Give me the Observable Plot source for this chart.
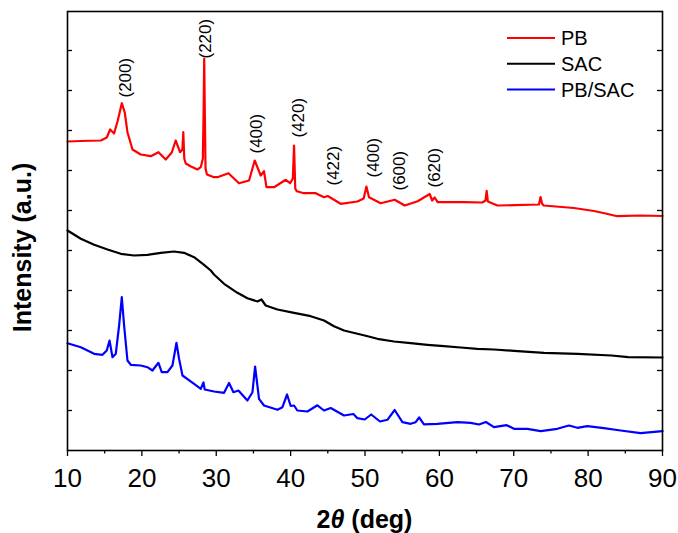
<!DOCTYPE html>
<html>
<head>
<meta charset="utf-8">
<script src="https://cdn.jsdelivr.net/npm/d3@7"></script>
<script src="https://cdn.jsdelivr.net/npm/@observablehq/plot@0.6"></script>
<style>
  html, body { margin: 0; padding: 0; background: #fff; }
  #chart { width: 678px; height: 533px; }
</style>
</head>
<body>
<div id="chart"></div>
<script>
// XRD patterns: 2θ (deg) and intensity (a.u.)
const pbTheta = [10.0, 11.79, 14.48, 15.28, 15.73, 16.26, 16.76, 17.3, 17.7, 18.06, 18.74, 19.85, 21.2, 22.23, 23.21, 24.02, 24.55, 25.13, 25.45, 25.57, 25.7, 25.9, 26.6, 27.47, 27.92, 28.2, 28.3, 28.38, 28.46, 28.56, 28.75, 29.7, 30.16, 31.64, 33.06, 34.41, 35.17, 35.98, 36.42, 36.75, 37.77, 39.34, 39.92, 40.3, 40.46, 40.62, 40.82, 41.8, 43.37, 44.49, 44.99, 46.73, 48.98, 49.82, 50.19, 50.54, 52.11, 53.99, 55.34, 57.08, 58.7, 59.03, 59.37, 59.77, 63.31, 65.78, 66.2, 66.36, 66.52, 67.8, 70.03, 73.39, 73.6, 73.8, 74.02, 78.09, 80.78, 82.35, 83.92, 87.05, 90.0];
const pbIntensity = [309, 309.5, 310, 313, 321, 317, 330, 347.3, 338, 318.3, 301, 296, 294.3, 298.3, 291, 298, 310, 298.3, 301, 318.3, 292, 287, 284, 281, 283.3, 292, 340, 392, 340, 282, 276, 273.3, 273.3, 277.3, 267.3, 270, 290, 275, 279.3, 263.3, 263.3, 270.7, 267.3, 272, 305, 262, 259.3, 257.3, 257.3, 253.3, 254.5, 246.7, 249, 252, 264, 253.3, 247.3, 250.7, 245, 249.3, 256.5, 250, 253, 248.3, 248.3, 248, 250, 259.7, 249, 245, 245.3, 246, 253.5, 247, 245, 242.5, 239.5, 237, 234.3, 235, 234.5];

const sacTheta = [10.0, 11.79, 13.58, 15.38, 17.16, 18.95, 20.75, 22.54, 24.33, 25.67, 27.02, 28.36, 29.26, 29.7, 31.05, 32.85, 34.19, 35.54, 36.08, 36.65, 38.23, 40.46, 42.7, 44.49, 45.83, 47.18, 48.98, 49.96, 51.67, 53.9, 56.14, 58.39, 60.62, 62.86, 65.11, 67.34, 70.03, 74.06, 78.55, 83.14, 85.38, 90.0];
const sacIntensity = [220, 211.7, 205.7, 201, 196.7, 195, 195.7, 197.7, 199, 197.7, 193.3, 185.7, 180, 176, 166.7, 157.7, 152.3, 149, 151, 145, 141, 137.7, 134.3, 130, 124.3, 120, 116.7, 115, 111.7, 109, 107.3, 105.7, 104.3, 103, 101.7, 101, 99.7, 97.7, 96.7, 95, 93.3, 93];

const pbsacTheta = [10.0, 11.79, 13.58, 14.7, 15.28, 15.65, 16.05, 16.49, 16.94, 17.3, 17.61, 18.06, 18.51, 19.85, 20.75, 21.42, 22.23, 22.67, 23.44, 24.11, 24.65, 25.0, 25.46, 27.02, 27.92, 28.28, 28.45, 29.7, 31.05, 31.72, 32.31, 32.98, 34.19, 34.87, 35.22, 35.75, 36.42, 38.23, 38.9, 39.52, 40.01, 40.46, 40.91, 42.26, 43.6, 44.49, 45.39, 47.18, 48.44, 48.98, 49.96, 50.83, 52.02, 53.01, 53.99, 55.03, 56.14, 56.81, 57.28, 57.93, 59.73, 62.42, 64.21, 65.32, 66.26, 67.34, 69.05, 70.03, 71.83, 73.62, 75.86, 77.42, 78.55, 79.89, 82.12, 84.37, 87.05, 90.0];
const pbsacIntensity = [107.2, 103.3, 96.7, 95.7, 100, 110, 93.3, 96.7, 125, 153.3, 125, 90, 85.7, 85, 83.3, 80, 87.7, 78.3, 78.3, 85, 107.7, 91.7, 75, 66.7, 61.7, 68, 61, 59, 57.7, 67.5, 58.3, 60, 50, 58.3, 84, 51.7, 45, 40.7, 43.3, 56, 44.5, 45, 40, 39, 45.2, 40, 42.5, 35, 36.5, 32.3, 31, 36, 29, 30.7, 40.5, 28.3, 26.7, 28.3, 33, 26.2, 26.7, 28.3, 27.7, 26, 28.5, 23.3, 25.3, 21.7, 21.7, 19.3, 21.7, 25, 22.7, 24.3, 22.3, 20, 17.3, 19.3];

// Miller-index annotations of the PB reflections
const peakLabels = ["(200)", "(220)", "(400)", "(420)", "(422)", "(400)", "(600)", "(620)"];
const labelTheta = [17.84, 28.52, 35.38, 41.02, 45.73, 51.17, 54.6, 59.37];
const labelIntensity = [353, 392, 297, 313, 265, 273, 260, 263];

// Axis ticks
const xTicks = [10, 20, 30, 40, 50, 60, 70, 80, 90];
const xMinorTicks = [15, 25, 35, 45, 55, 65, 75, 85];
const yTicks = [40, 80, 120, 160, 200, 240, 280, 320, 360, 400];

// Legend
const seriesNames = ["PB", "SAC", "PB/SAC"];
const seriesColors = ["#ff0000", "#000000", "#0000ff"];

const W = 678, H = 533;
const mL = 67, mR = 16, mT = 11, mB = 83;
const innerW = W - mL - mR;
const font = "'Liberation Sans', Arial, Helvetica, sans-serif";

const rows = (t, v) => t.map((x, i) => ({theta: x, intensity: v[i]}));
const series = [
  rows(pbTheta, pbIntensity),
  rows(sacTheta, sacIntensity),
  rows(pbsacTheta, pbsacIntensity)
];
const labels = peakLabels.map((t, i) => ({text: t, theta: labelTheta[i], intensity: labelIntensity[i]}));

const chart = Plot.plot({
  width: W,
  height: H,
  marginLeft: mL,
  marginRight: mR,
  marginTop: mT,
  marginBottom: mB,
  style: {fontFamily: font, background: "white", color: "black"},
  x: {domain: [10, 90]},
  y: {domain: [0, 439], axis: null},
  marks: [
    ...series.map((d, i) => Plot.line(d, {
      x: "theta", y: "intensity",
      stroke: seriesColors[i], strokeWidth: 2.2, strokeLinejoin: "round"
    })),
    Plot.text(labels, {
      x: "theta", y: "intensity", text: "text",
      rotate: -90, textAnchor: "start", lineAnchor: "middle",
      fontSize: 17, fill: "black"
    }),
    // inward ticks on the left and right frame edges
    Plot.tickY(yTicks, {y: d => d, insetRight: innerW - 5, stroke: "black", strokeWidth: 1.3}),
    Plot.tickY(yTicks, {y: d => d, insetLeft: innerW - 5, stroke: "black", strokeWidth: 1.3}),
    Plot.axisX(xMinorTicks, {tickSize: 3.5, tickFormat: () => "", label: null, strokeWidth: 1.3}),
    Plot.axisX(xTicks, {tickSize: 6, tickPadding: 12, fontSize: 26, label: null, strokeWidth: 1.3}),
    Plot.frame({stroke: "black", strokeWidth: 1.6})
  ]
});

const svg = d3.select(chart);

// legend
const legend = svg.append("g")
  .attr("font-family", font).attr("font-size", 20)
  .attr("text-anchor", "start");
seriesNames.forEach((name, i) => {
  const y = 38 + i * 25.8;
  legend.append("line")
    .attr("x1", 507).attr("x2", 555).attr("y1", y).attr("y2", y)
    .attr("stroke", seriesColors[i]).attr("stroke-width", 2);
  legend.append("text")
    .attr("x", 561).attr("y", y).attr("dy", "0.35em")
    .attr("text-anchor", "start")
    .attr("fill", "black")
    .text(name);
});

// axis titles
svg.append("text")
  .attr("transform", "translate(31,247.5) rotate(-90)")
  .attr("text-anchor", "middle")
  .attr("font-family", font).attr("font-size", 25).attr("font-weight", "bold")
  .attr("fill", "black")
  .text("Intensity (a.u.)");

const xTitle = svg.append("text")
  .attr("x", (mL + W - mR) / 2).attr("y", 528)
  .attr("text-anchor", "middle")
  .attr("font-family", font).attr("font-size", 25).attr("font-weight", "bold")
  .attr("fill", "black");
xTitle.append("tspan").text("2");
xTitle.append("tspan").attr("font-style", "italic").text("θ");
xTitle.append("tspan").text(" (deg)");

document.getElementById("chart").appendChild(chart);
</script>
</body>
</html>
